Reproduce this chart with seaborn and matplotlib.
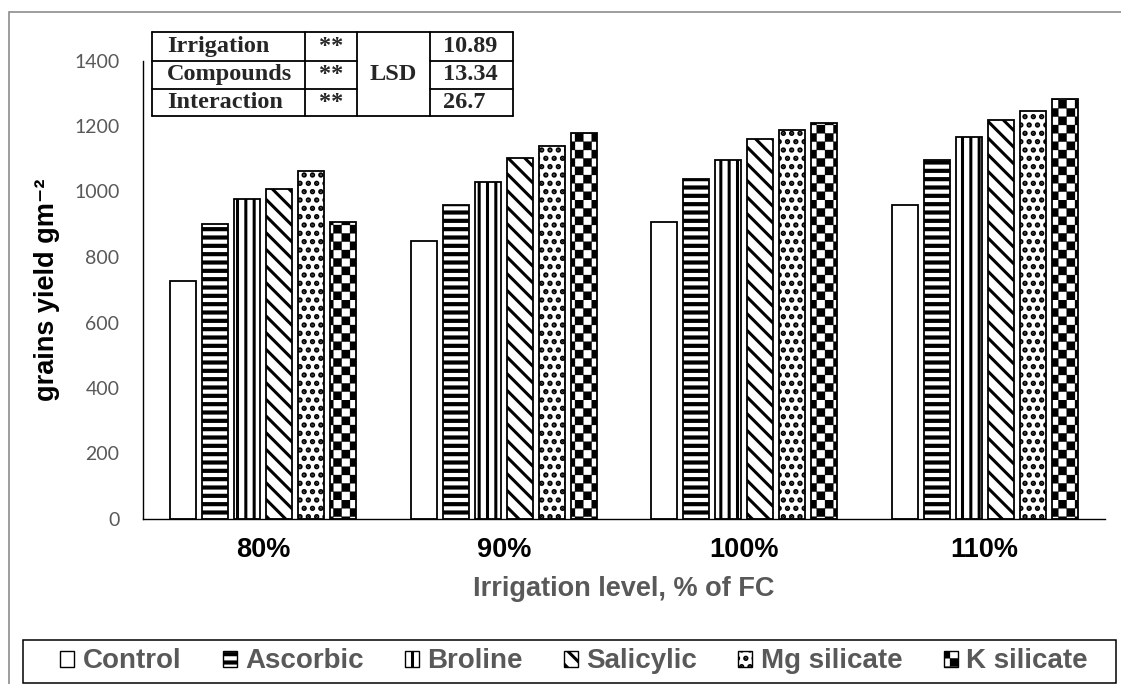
import warnings

import matplotlib
matplotlib.use("Agg")
import matplotlib.pyplot as plt
import matplotlib.patches as mpatches
from matplotlib import hatch as mhatch
from matplotlib.font_manager import FontProperties
from matplotlib.lines import Line2D
from matplotlib.path import Path
import pandas as pd
import seaborn as sns

warnings.filterwarnings("ignore")

# ---------------------------------------------------------------- data
levels = ["80%", "90%", "100%", "110%"]
treatments = ["Control", "Ascorbic", "Broline", "Salicylic", "Mg silicate", "K silicate"]

control = [727, 849, 907, 958]
ascorbic = [900, 958, 1037, 1095]
broline = [978, 1029, 1095, 1166]
salicylic = [1007, 1101, 1159, 1217]
mg_silicate = [1062, 1138, 1187, 1247]
k_silicate = [907, 1179, 1208, 1283]

y_ticks = [0, 200, 400, 600, 800, 1000, 1200, 1400]

lsd_terms = ["Irrigation", "Compounds", "Interaction"]
lsd_signif = ["**", "**", "**"]
lsd_label = "LSD"
lsd_values = ["10.89", "13.34", "26.7"]

series = [control, ascorbic, broline, salicylic, mg_silicate, k_silicate]
df = pd.DataFrame(
    [(lv, t, v) for t, vals in zip(treatments, series) for lv, v in zip(levels, vals)],
    columns=["level", "treatment", "yield"],
)


# ------------------------------------------------ checkerboard hatch 'c'
class CheckerHatch(mhatch.HatchPatternBase):
    """Filled checkerboard squares; each 'c' adds `density` cells per inch."""

    def __init__(self, hatch, density):
        self.cells = hatch.count("c") * density
        self.num_vertices = ((self.cells * self.cells + 1) // 2) * 5

    def set_vertices_and_codes(self, vertices, codes):
        step = 1.0 / self.cells
        k = 0
        for i in range(self.cells):
            for j in range(self.cells):
                if (i + j) % 2:
                    continue
                x0, y0 = i * step, j * step
                vertices[k:k + 5] = [(x0, y0), (x0 + step, y0), (x0 + step, y0 + step),
                                     (x0, y0 + step), (x0, y0)]
                codes[k:k + 5] = [Path.MOVETO, Path.LINETO, Path.LINETO,
                                  Path.LINETO, Path.CLOSEPOLY]
                k += 5


mhatch._hatch_types.append(CheckerHatch)

# hatch symbol and hatch line width (pt) for each treatment
hatch_styles = {
    "Control": ("", 0.5),
    "Ascorbic": ("--", 3.0),
    "Broline": ("||", 2.2),
    "Salicylic": ("\\\\", 2.2),
    "Mg silicate": ("..", 2.6),
    "K silicate": ("cc", 0.2),
}

# ---------------------------------------------------------------- style
sns.set_theme(style="white")
plt.rcParams["font.family"] = ["Liberation Sans", "DejaVu Sans"]
plt.rcParams["hatch.color"] = "black"

W, H = 1121, 684
GREY = "#595959"


def fx(x):
    return x / W


def fy(y):
    return 1 - y / H


fig = plt.figure(figsize=(W / 100, H / 100), dpi=100)
fig.patch.set_facecolor("white")

ax = fig.add_axes([fx(143), fy(519), (1105 - 143) / W, (519 - 60.5) / H])

sns.barplot(
    data=df, x="level", y="yield", hue="treatment",
    order=levels, hue_order=treatments,
    palette=["white"] * len(treatments), saturation=1,
    edgecolor="black", linewidth=1.3,
    width=0.8, gap=0.19, errorbar=None, legend=False, ax=ax,
)


def style_hatch(patch, name):
    h, lw = hatch_styles[name]
    patch.set_hatch(h)
    if hasattr(patch, "set_hatch_linewidth"):
        patch.set_hatch_linewidth(lw)


for name, cont in zip(treatments, ax.containers):
    for bar in cont:
        style_hatch(bar, name)

ax.set_ylim(0, 1400)
ax.set_yticks(y_ticks)
ax.set_yticklabels([str(t) for t in y_ticks],
                   fontdict=dict(family="Lato", size=14, color=GREY))
ax.tick_params(axis="y", length=0, pad=17)
ax.tick_params(axis="x", length=0, pad=13)
for lab in ax.get_xticklabels():
    lab.set_fontsize(19.5)
    lab.set_fontweight("bold")
    lab.set_color("black")

ax.set_xlabel("Irrigation level, % of FC", fontsize=19.5, fontweight="bold",
              color=GREY, labelpad=9)
ax.set_ylabel("grains yield gm⁻²", fontsize=19.5, fontweight="bold",
              color="black", labelpad=10)

for s in ["top", "right"]:
    ax.spines[s].set_visible(False)
for s in ["left", "bottom"]:
    ax.spines[s].set_color("black")
    ax.spines[s].set_linewidth(1.0)
ax.grid(False)

# ---------------------------------------------------------------- legend
handles = [
    mpatches.Patch(facecolor="white", edgecolor="black", linewidth=1.0,
                   hatch=hatch_styles[t][0], label=t)
    for t in treatments
]
leg = fig.legend(
    handles=handles, loc="center", bbox_to_anchor=(fx(574), fy(661.5)),
    ncol=6, frameon=False,
    prop=FontProperties(family="Liberation Sans", weight="bold", size=20),
    labelcolor=GREY, handlelength=0.5, handleheight=0.5,
    handletextpad=0.3, columnspacing=1.49, borderpad=0,
)
for p, t in zip(leg.get_patches(), treatments):
    style_hatch(p, t)

fig.add_artist(mpatches.Rectangle((fx(23), fy(683)), (1116 - 23) / W, 43 / H,
                                  transform=fig.transFigure, fill=False,
                                  edgecolor="black", linewidth=1.1))

# outer chart-area frame
fig.add_artist(mpatches.Rectangle((fx(8.5), fy(700)), 1.2, (700 - 11.5) / H,
                                  transform=fig.transFigure, fill=False,
                                  edgecolor="#8c8c8c", linewidth=1.2))

# ---------------------------------------------------------------- LSD table
col_x = [152, 305, 357, 430, 513]
row_y = [32, 60.5, 89, 116]


def hline(x0, x1, y):
    fig.add_artist(Line2D([fx(x0), fx(x1)], [fy(y), fy(y)], transform=fig.transFigure,
                          color="black", linewidth=1.3))


def vline(x, y0, y1):
    fig.add_artist(Line2D([fx(x), fx(x)], [fy(y0), fy(y1)], transform=fig.transFigure,
                          color="black", linewidth=1.3))


hline(col_x[0], col_x[-1], row_y[0])
hline(col_x[0], col_x[-1], row_y[-1])
for y in row_y[1:-1]:
    hline(col_x[0], col_x[2], y)
    hline(col_x[3], col_x[4], y)
for x in col_x:
    vline(x, row_y[0], row_y[-1])

serif = dict(family=["Liberation Serif", "DejaVu Serif"], weight="bold", size=17.5)
for i in range(3):
    yc = fy((row_y[i] + row_y[i + 1]) / 2)
    fig.text(fx(col_x[0] + 15), yc, lsd_terms[i], ha="left", va="center", **serif)
    fig.text(fx((col_x[1] + col_x[2]) / 2), yc, lsd_signif[i], ha="center",
             va="center", **serif)
    fig.text(fx(col_x[3] + 13), yc, lsd_values[i], ha="left", va="center", **serif)
fig.text(fx((col_x[2] + col_x[3]) / 2), fy((row_y[0] + row_y[-1]) / 2), lsd_label,
         ha="center", va="center", **serif)

fig.savefig("out.png", dpi=100, facecolor="white")
